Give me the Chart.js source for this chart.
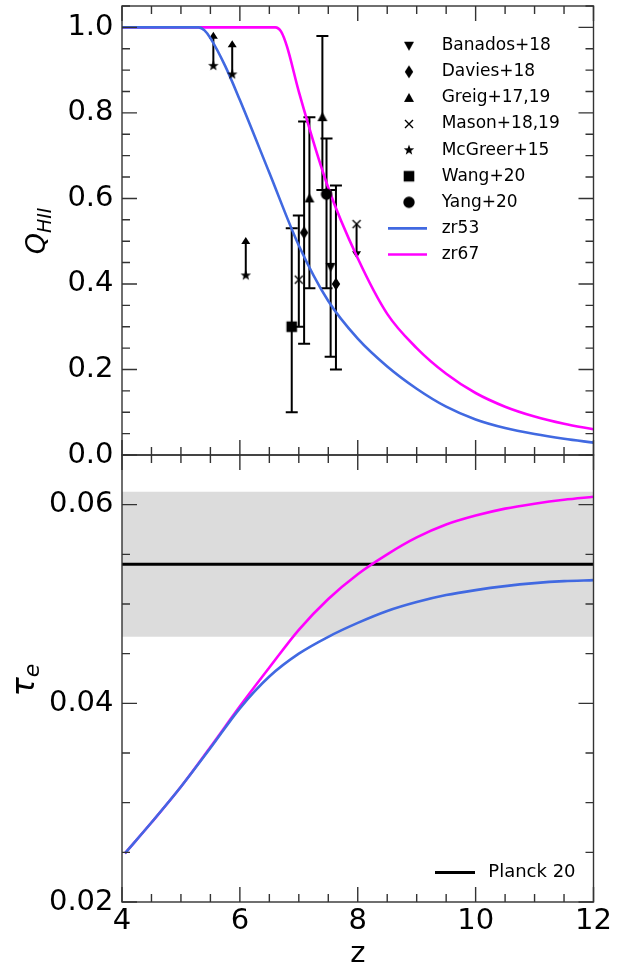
<!DOCTYPE html>
<html><head><meta charset="utf-8">
<script src="https://cdn.jsdelivr.net/npm/chart.js@4.4.1/dist/chart.umd.min.js"></script>
<style>
html,body{margin:0;padding:0;background:#fff;}
#wrap{position:relative;width:628px;height:972px;background:#fff;}
canvas{position:absolute;left:0;top:0;}
</style></head><body>
<div id="wrap"><canvas id="cQ" width="628" height="972"></canvas><canvas id="cT" width="628" height="972"></canvas></div>
<script>
// ---------- tick labels ----------
const zAxisTicks = [4, 6, 8, 10, 12];
const qAxisTicks = [0.0, 0.2, 0.4, 0.6, 0.8, 1.0];
const tauAxisTicks = [0.02, 0.04, 0.06];

// ---------- model curves: ionized fraction ----------
const zQ53 = [4.0, 5.0, 5.3, 5.4, 5.5, 5.75, 6.0, 6.5, 7.0, 7.5, 8.0, 8.5, 9.0, 9.5, 10.0, 10.5, 11.0, 11.5, 12.0];
const qZr53 = [1.0, 1.0, 1.0, 0.993, 0.975, 0.91, 0.83, 0.66, 0.49, 0.36, 0.272, 0.207, 0.155, 0.113, 0.083, 0.063, 0.049, 0.038, 0.029];
const zQ67 = [4.0, 6.0, 6.6, 6.7, 6.8, 7.0, 7.5, 8.0, 8.5, 9.0, 9.5, 10.0, 10.5, 11.0, 11.5, 12.0];
const qZr67 = [1.0, 1.0, 1.0, 0.99, 0.955, 0.85, 0.625, 0.46, 0.33, 0.250, 0.190, 0.145, 0.113, 0.090, 0.073, 0.060];

// ---------- model curves: optical depth ----------
const zTau = [4.05, 4.5, 5.0, 5.5, 6.0, 6.5, 7.0, 7.5, 8.0, 8.5, 9.0, 9.5, 10.0, 10.5, 11.0, 11.5, 12.0];
const tauZr53 = [0.0249, 0.0280, 0.0316, 0.0355, 0.0395, 0.0427, 0.0450, 0.0467, 0.0481, 0.0493, 0.0502, 0.0509, 0.0514, 0.0518, 0.0521, 0.0523, 0.0524];
const tauZr67 = [0.0249, 0.0280, 0.0316, 0.0356, 0.0397, 0.0436, 0.0474, 0.0505, 0.0530, 0.0550, 0.0567, 0.0580, 0.0589, 0.0596, 0.0601, 0.0605, 0.0608];

// ---------- Planck ----------
const planckTau = [0.054];
const planckBand = [0.0467, 0.0613];

// ---------- observations ----------
const banadosZ = [7.54], banadosQ = [0.44], banadosLo = [0.23], banadosHi = [0.62];
const daviesZ = [7.09, 7.63], daviesQ = [0.52, 0.40], daviesLo = [0.26, 0.20], daviesHi = [0.78, 0.63];
const greigZ = [7.18, 7.40], greigQ = [0.60, 0.79], greigLo = [0.39, 0.62], greigHi = [0.79, 0.98];
const masonZ = [7.00, 7.98], masonQ = [0.41, 0.54], masonLo = [0.30, null], masonHi = [0.56, null], masonLim = [null, 0.46];
const mcgreerZ = [5.55, 5.87, 6.10], mcgreerQ = [0.91, 0.89, 0.42], mcgreerLim = [0.99, 0.97, 0.51];
const wangZ = [6.88], wangQ = [0.30], wangLo = [0.10], wangHi = [0.53];
const yangZ = [7.47], yangQ = [0.61], yangLo = [0.39], yangHi = [0.74];

const legendOrder = ['Banados+18','Davies+18','Greig+17,19','Mason+18,19','McGreer+15','Wang+20','Yang+20','zr53','zr67'];

// ---------- style ----------
const BLUE = '#4169E1', MAGENTA = '#FF00FF', FRAME = '#333';
const FONT = "'DejaVu Sans', sans-serif";
Chart.defaults.font.family = FONT;
Chart.defaults.color = '#000';

const pts = (xs, ys) => xs.map((x, i) => ({x: x, y: ys[i]}));

function marker(kind) {
  const c = document.createElement('canvas'); c.width = 16; c.height = 16;
  const g = c.getContext('2d'); g.fillStyle = '#000'; g.strokeStyle = '#000'; const m = 8;
  g.beginPath();
  if (kind === 'v') { g.moveTo(m-5, m-4); g.lineTo(m+5, m-4); g.lineTo(m, m+5); g.closePath(); g.fill(); }
  else if (kind === '^') { g.moveTo(m-5, m+4); g.lineTo(m+5, m+4); g.lineTo(m, m-5); g.closePath(); g.fill(); }
  else if (kind === 'd') { g.moveTo(m, m-6.5); g.lineTo(m+4.2, m); g.lineTo(m, m+6.5); g.lineTo(m-4.2, m); g.closePath(); g.fill(); }
  else if (kind === 'x') { g.lineWidth = 1.4; g.moveTo(m-4, m-4); g.lineTo(m+4, m+4); g.moveTo(m+4, m-4); g.lineTo(m-4, m+4); g.stroke(); }
  else if (kind === '*') { for (let i = 0; i < 10; i++) { const r = i % 2 ? 2.3 : 5.5; const a = -Math.PI/2 + i*Math.PI/5; g.lineTo(m + r*Math.cos(a), m + r*Math.sin(a)); } g.closePath(); g.fill(); }
  else if (kind === 's') { g.fillRect(m-5.3, m-5.3, 10.6, 10.6); }
  else if (kind === 'o') { g.arc(m, m, 5.7, 0, 2*Math.PI); g.fill(); }
  return c;
}

// ---------- plugins ----------
function frameTicks(yMinorStep, yMajorStep) {
  return {
    id: 'frameTicks',
    afterDraw(chart) {
      const {ctx, chartArea: a, scales: {x, y}} = chart;
      ctx.save(); ctx.strokeStyle = FRAME; ctx.lineWidth = 1.4;
      ctx.beginPath();
      const nx = Math.round((x.max - x.min) / 0.5);
      for (let i = 0; i <= nx; i++) {
        const v = x.min + i * 0.5; const p = x.getPixelForValue(v);
        const len = (Math.abs(v / 2 - Math.round(v / 2)) < 1e-6) ? 15 : 8;
        ctx.moveTo(p, a.bottom); ctx.lineTo(p, a.bottom - len);
        ctx.moveTo(p, a.top); ctx.lineTo(p, a.top + len);
      }
      const ny = Math.floor((y.max - y.min) / yMinorStep + 1e-6);
      for (let i = 0; i <= ny; i++) {
        const v = y.min + i * yMinorStep; const p = y.getPixelForValue(v);
        const r = v / yMajorStep; const len = (Math.abs(r - Math.round(r)) < 1e-6) ? 15 : 8;
        ctx.moveTo(a.left, p); ctx.lineTo(a.left + len, p);
        ctx.moveTo(a.right, p); ctx.lineTo(a.right - len, p);
      }
      ctx.stroke();
      ctx.strokeRect(a.left, a.top, a.right - a.left, a.bottom - a.top);
      ctx.restore();
    }
  };
}

const errorBars = {
  id: 'errorBars',
  beforeDatasetsDraw(chart) {
    const {ctx, scales: {x, y}} = chart;
    ctx.save(); ctx.strokeStyle = '#000'; ctx.fillStyle = '#000'; ctx.lineWidth = 2;
    chart.data.datasets.forEach(ds => {
      if (!ds.obsZ) return;
      ds.obsZ.forEach((z, i) => {
        const px = x.getPixelForValue(z);
        if (ds.errLo && ds.errLo[i] != null) {
          const pLo = y.getPixelForValue(ds.errLo[i]), pHi = y.getPixelForValue(ds.errHi[i]);
          ctx.beginPath();
          ctx.moveTo(px, pLo); ctx.lineTo(px, pHi);
          ctx.moveTo(px - 6, pLo); ctx.lineTo(px + 6, pLo);
          ctx.moveTo(px - 6, pHi); ctx.lineTo(px + 6, pHi);
          ctx.stroke();
        }
        if (ds.limTo && ds.limTo[i] != null) {
          const p0 = y.getPixelForValue(ds.obsQ[i]), p1 = y.getPixelForValue(ds.limTo[i]);
          const dir = p1 < p0 ? -1 : 1;
          ctx.beginPath(); ctx.moveTo(px, p0); ctx.lineTo(px, p1 - dir * 5); ctx.stroke();
          ctx.beginPath(); ctx.moveTo(px, p1); ctx.lineTo(px - 4.5, p1 - dir * 7); ctx.lineTo(px + 4.5, p1 - dir * 7); ctx.closePath(); ctx.fill();
        }
      });
    });
    ctx.restore();
  }
};

const qLegend = {
  id: 'qLegend',
  afterDraw(chart) {
    const ctx = chart.ctx; ctx.save();
    ctx.font = "17px " + FONT; ctx.textBaseline = 'middle'; ctx.fillStyle = '#000';
    legendOrder.forEach((lab, k) => {
      const ds = chart.data.datasets.find(d => d.label === lab);
      const yy = 45.7 + k * 26.1;
      if (ds.pointStyle && typeof ds.pointStyle === 'object') {
        ctx.drawImage(ds.pointStyle, 409 - 8, yy - 8);
      } else {
        ctx.strokeStyle = ds.borderColor; ctx.lineWidth = 2.6;
        ctx.beginPath(); ctx.moveTo(388, yy); ctx.lineTo(427, yy); ctx.stroke();
      }
      ctx.fillText(lab, 441.7, yy);
    });
    ctx.restore();
  }
};

const tauLegend = {
  id: 'tauLegend',
  afterDraw(chart) {
    const ctx = chart.ctx; ctx.save();
    const ds = chart.data.datasets.find(d => d.label === 'Planck 20');
    ctx.strokeStyle = ds.borderColor; ctx.lineWidth = 2.8;
    ctx.beginPath(); ctx.moveTo(435, 872.5); ctx.lineTo(475, 872.5); ctx.stroke();
    ctx.font = "18px " + FONT; ctx.textBaseline = 'middle'; ctx.fillStyle = '#000';
    ctx.fillText('Planck 20', 488.3, 872.5);
    ctx.restore();
  }
};

function yTitle(cx, cy, main, sub, mainSize, subSize, subDrop) {
  return {
    id: 'yTitle',
    afterDraw(chart) {
      const ctx = chart.ctx; ctx.save();
      ctx.translate(cx, cy); ctx.rotate(-Math.PI / 2);
      ctx.fillStyle = '#000'; ctx.textBaseline = 'alphabetic';
      ctx.font = "italic " + mainSize + "px " + FONT; const w1 = ctx.measureText(main).width;
      ctx.font = "italic " + subSize + "px " + FONT; const w2 = ctx.measureText(sub).width;
      const sx = -(w1 + w2) / 2;
      ctx.font = "italic " + mainSize + "px " + FONT; ctx.fillText(main, sx, 0);
      ctx.font = "italic " + subSize + "px " + FONT; ctx.fillText(sub, sx + w1, subDrop);
      ctx.restore();
    }
  };
}

function obsSet(label, kind, zs, qs, lo, hi, lim) {
  return {label: label, data: pts(zs, qs), pointStyle: marker(kind), pointRadius: 5, pointHoverRadius: 5,
          showLine: false, order: 1, obsZ: zs, obsQ: qs, errLo: lo, errHi: hi, limTo: lim};
}

const hiddenX = {type: 'linear', min: 4, max: 12, ticks: {display: false}, grid: {display: false, drawTicks: false},
  border: {display: false}, afterFit(s) { s.height = 0; s.paddingLeft = 0; s.paddingRight = 0; }};

// ---------- top panel ----------
new Chart(document.getElementById('cQ'), {
  type: 'scatter',
  data: {datasets: [
    {label: 'zr53', data: pts(zQ53, qZr53), showLine: true, borderColor: BLUE, backgroundColor: BLUE, borderWidth: 2.6, pointRadius: 0, cubicInterpolationMode: 'monotone', order: 2},
    {label: 'zr67', data: pts(zQ67, qZr67), showLine: true, borderColor: MAGENTA, backgroundColor: MAGENTA, borderWidth: 2.6, pointRadius: 0, cubicInterpolationMode: 'monotone', order: 2},
    obsSet('Banados+18', 'v', banadosZ, banadosQ, banadosLo, banadosHi, null),
    obsSet('Davies+18', 'd', daviesZ, daviesQ, daviesLo, daviesHi, null),
    obsSet('Greig+17,19', '^', greigZ, greigQ, greigLo, greigHi, null),
    obsSet('Mason+18,19', 'x', masonZ, masonQ, masonLo, masonHi, masonLim),
    obsSet('McGreer+15', '*', mcgreerZ, mcgreerQ, null, null, mcgreerLim),
    obsSet('Wang+20', 's', wangZ, wangQ, wangLo, wangHi, null),
    obsSet('Yang+20', 'o', yangZ, yangQ, yangLo, yangHi, null)
  ]},
  options: {
    responsive: false, animation: false, events: [],
    layout: {padding: {top: 6, bottom: 517, left: 0, right: 34.5}},
    plugins: {legend: {display: false}, tooltip: {enabled: false}},
    scales: {
      x: hiddenX,
      y: {type: 'linear', min: 0, max: 1.05,
        ticks: {padding: 8.5, font: {size: 29}, callback: v => Number(v).toFixed(1)},
        afterBuildTicks(s) { s.ticks = qAxisTicks.map(v => ({value: v})); },
        grid: {display: false, drawTicks: false}, border: {display: false},
        afterFit(s) { s.width = 122; s.paddingTop = 0; s.paddingBottom = 0; }}
    }
  },
  plugins: [errorBars, frameTicks(0.05, 0.2), qLegend, yTitle(45, 231, 'Q', 'HII', 27, 19, 6)]
});

// ---------- bottom panel ----------
new Chart(document.getElementById('cT'), {
  type: 'scatter',
  data: {datasets: [
    {label: 'zr53', data: pts(zTau, tauZr53), showLine: true, borderColor: BLUE, borderWidth: 2.6, pointRadius: 0, cubicInterpolationMode: 'monotone', order: 1},
    {label: 'zr67', data: pts(zTau, tauZr67), showLine: true, borderColor: MAGENTA, borderWidth: 2.6, pointRadius: 0, cubicInterpolationMode: 'monotone', order: 1},
    {label: 'Planck 20', data: pts([4, 12], [planckTau[0], planckTau[0]]), showLine: true, borderColor: '#000', borderWidth: 2.8, pointRadius: 0, order: 2},
    {label: 'band hi', data: pts([4, 12], [planckBand[1], planckBand[1]]), showLine: true, borderWidth: 0, borderColor: 'rgba(0,0,0,0)', pointRadius: 0, fill: '+1', backgroundColor: '#dcdcdc', order: 3},
    {label: 'band lo', data: pts([4, 12], [planckBand[0], planckBand[0]]), showLine: true, borderWidth: 0, borderColor: 'rgba(0,0,0,0)', pointRadius: 0, order: 3}
  ]},
  options: {
    responsive: false, animation: false, events: [],
    layout: {padding: {top: 455, bottom: 0, left: 0, right: 34.5}},
    plugins: {legend: {display: false}, tooltip: {enabled: false}},
    scales: {
      x: {type: 'linear', min: 4, max: 12,
        ticks: {padding: 2, font: {size: 29}, maxRotation: 0, autoSkip: false, callback: v => String(v)},
        afterBuildTicks(s) { s.ticks = zAxisTicks.map(v => ({value: v})); },
        grid: {display: false, drawTicks: false}, border: {display: false},
        title: {display: true, text: 'z', font: {size: 29}, padding: {top: 0, bottom: 0}},
        afterFit(s) { s.height = 70; s.paddingLeft = 0; s.paddingRight = 0; }},
      y: {type: 'linear', min: 0.02, max: 0.065,
        ticks: {padding: 8.5, font: {size: 29}, callback: v => Number(v).toFixed(2)},
        afterBuildTicks(s) { s.ticks = tauAxisTicks.map(v => ({value: v})); },
        grid: {display: false, drawTicks: false}, border: {display: false},
        afterFit(s) { s.width = 122; s.paddingTop = 0; s.paddingBottom = 0; }}
    }
  },
  plugins: [frameTicks(0.005, 0.02), tauLegend, yTitle(34, 680, 'τ', 'e', 32, 22, 5)]
});
</script>
</body></html>
